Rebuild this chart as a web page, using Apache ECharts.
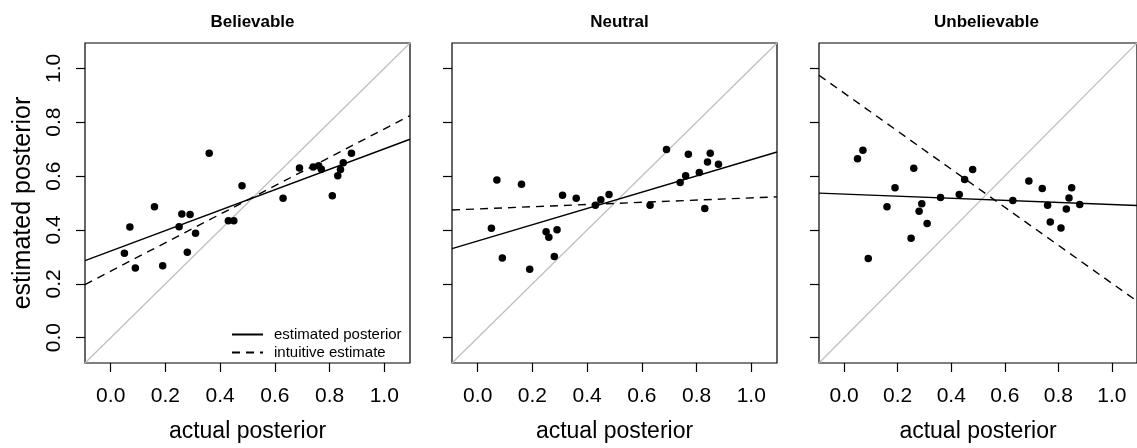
<!DOCTYPE html>
<html>
<head>
<meta charset="utf-8">
<script src="https://cdn.jsdelivr.net/npm/echarts@6/dist/echarts.min.js"></script>
<style>
html,body{margin:0;padding:0;background:#fff;}
#chart{width:1137px;height:448px;}
</style>
</head>
<body>
<div id="chart"></div>
<script>
// ---- data ----
const panelTitles = ['Believable', 'Neutral', 'Unbelievable'];
const xActual = [0.05, 0.07, 0.09, 0.16, 0.19, 0.25, 0.26, 0.28, 0.29, 0.31, 0.36, 0.43, 0.45, 0.48, 0.63, 0.69, 0.74, 0.76, 0.77, 0.81, 0.83, 0.84, 0.85, 0.88];
const yBelievable = [0.313, 0.411, 0.259, 0.486, 0.267, 0.412, 0.459, 0.317, 0.457, 0.388, 0.685, 0.434, 0.434, 0.564, 0.518, 0.630, 0.634, 0.638, 0.625, 0.527, 0.601, 0.624, 0.649, 0.685];
const yNeutral = [0.406, 0.585, 0.296, 0.570, 0.254, 0.393, 0.373, 0.301, 0.401, 0.529, 0.518, 0.492, 0.512, 0.532, 0.492, 0.699, 0.576, 0.601, 0.681, 0.613, 0.480, 0.652, 0.685, 0.644];
const yUnbelievable = [0.664, 0.696, 0.294, 0.486, 0.557, 0.369, 0.629, 0.469, 0.497, 0.424, 0.520, 0.532, 0.587, 0.624, 0.509, 0.582, 0.554, 0.492, 0.429, 0.407, 0.478, 0.519, 0.557, 0.494];
const fitIntercept = [0.322, 0.359, 0.533];
const fitSlope = [0.379, 0.302, -0.0386];
const intuitiveIntercept = [0.247, 0.478, 0.908];
const intuitiveSlope = [0.528, 0.041, -0.706];
const tickValues = [0.0, 0.2, 0.4, 0.6, 0.8, 1.0];
const axisMin = -0.094, axisMax = 1.094;
const legendNames = ['estimated posterior', 'intuitive estimate'];
const xTitle = 'actual posterior';
const yTitle = 'estimated posterior';

// ---- layout ----
const FONT = '"Liberation Sans", Arial, Helvetica, sans-serif';
const panelLeft = [85, 452, 819];
const gridTop = 43, gridW = 325, gridH = 324;
const yValues = [yBelievable, yNeutral, yUnbelievable];

const grids = [], xAxes = [], yAxes = [], series = [], titles = [];
for (let i = 0; i < 3; i++) {
  grids.push({left: panelLeft[i], top: gridTop, width: gridW, height: gridH,
    show: true, borderColor: '#000', borderWidth: 1.2, backgroundColor: '#fff', containLabel: false});
  xAxes.push({type: 'value', gridIndex: i, min: axisMin, max: axisMax, position: 'bottom',
    axisLine: {show: false, onZero: false},
    axisTick: {show: true, inside: false, customValues: tickValues, length: 9, lineStyle: {color: '#000', width: 1.2}},
    axisLabel: {show: true, customValues: tickValues, fontSize: 21, fontFamily: FONT, color: '#000', margin: 23,
      formatter: v => v.toFixed(1)},
    splitLine: {show: false},
    name: xTitle, nameLocation: 'middle', nameGap: 57,
    nameTextStyle: {fontSize: 23, fontFamily: FONT, color: '#000'}});
  yAxes.push({type: 'value', gridIndex: i, min: axisMin, max: axisMax, position: 'left',
    axisLine: {show: false, onZero: false},
    axisTick: {show: true, inside: false, customValues: tickValues, length: 9, lineStyle: {color: '#000', width: 1.2}},
    axisLabel: {show: i === 0, customValues: tickValues, fontSize: 21, fontFamily: FONT, color: '#000', margin: 20,
      rotate: 90, formatter: v => v.toFixed(1)},
    splitLine: {show: false},
    name: i === 0 ? yTitle : '', nameLocation: 'middle', nameGap: 49, nameRotate: 90,
    nameTextStyle: {fontSize: 25, fontFamily: FONT, color: '#000'}});
  titles.push({text: panelTitles[i], left: panelLeft[i] + gridW / 2, top: 9, textAlign: 'center',
    textStyle: {fontSize: 17, fontWeight: 'bold', fontFamily: FONT, color: '#000'}});

  // identity line
  series.push({type: 'line', xAxisIndex: i, yAxisIndex: i, symbol: 'none', silent: true, z: 1,
    data: [[axisMin, axisMin], [axisMax, axisMax]],
    lineStyle: {color: '#bebebe', width: 1.2}});
  // estimated posterior fit
  series.push({type: 'line', name: legendNames[0], xAxisIndex: i, yAxisIndex: i, symbol: 'none', z: 2,
    data: [[axisMin, fitIntercept[i] + fitSlope[i] * axisMin], [axisMax, fitIntercept[i] + fitSlope[i] * axisMax]],
    lineStyle: {color: '#000', width: 1.4}, itemStyle: {color: '#000'}});
  // intuitive estimate
  series.push({type: 'line', name: legendNames[1], xAxisIndex: i, yAxisIndex: i, symbol: 'none', z: 2,
    data: [[axisMin, intuitiveIntercept[i] + intuitiveSlope[i] * axisMin], [axisMax, intuitiveIntercept[i] + intuitiveSlope[i] * axisMax]],
    lineStyle: {color: '#000', width: 1.4, type: [8, 6]}, itemStyle: {color: '#000'}});
  // points
  series.push({type: 'scatter', xAxisIndex: i, yAxisIndex: i, symbol: 'circle', symbolSize: 7.5, z: 3,
    data: xActual.map((x, k) => [x, yValues[i][k]]),
    itemStyle: {color: '#000', opacity: 1}});
}

const chart = echarts.init(document.getElementById('chart'), null, {renderer: 'canvas'});
chart.setOption({
  animation: false,
  backgroundColor: '#fff',
  title: titles,
  grid: grids,
  xAxis: xAxes,
  yAxis: yAxes,
  legend: {data: legendNames, orient: 'vertical', left: 226, top: 322, itemGap: 3,
    itemWidth: 31, itemHeight: 14, selectedMode: false,
    itemStyle: {opacity: 0},
    textStyle: {fontSize: 15, fontFamily: FONT, color: '#000', padding: [0, 0, 0, 6]}},
  series: series
});
</script>
</body>
</html>
